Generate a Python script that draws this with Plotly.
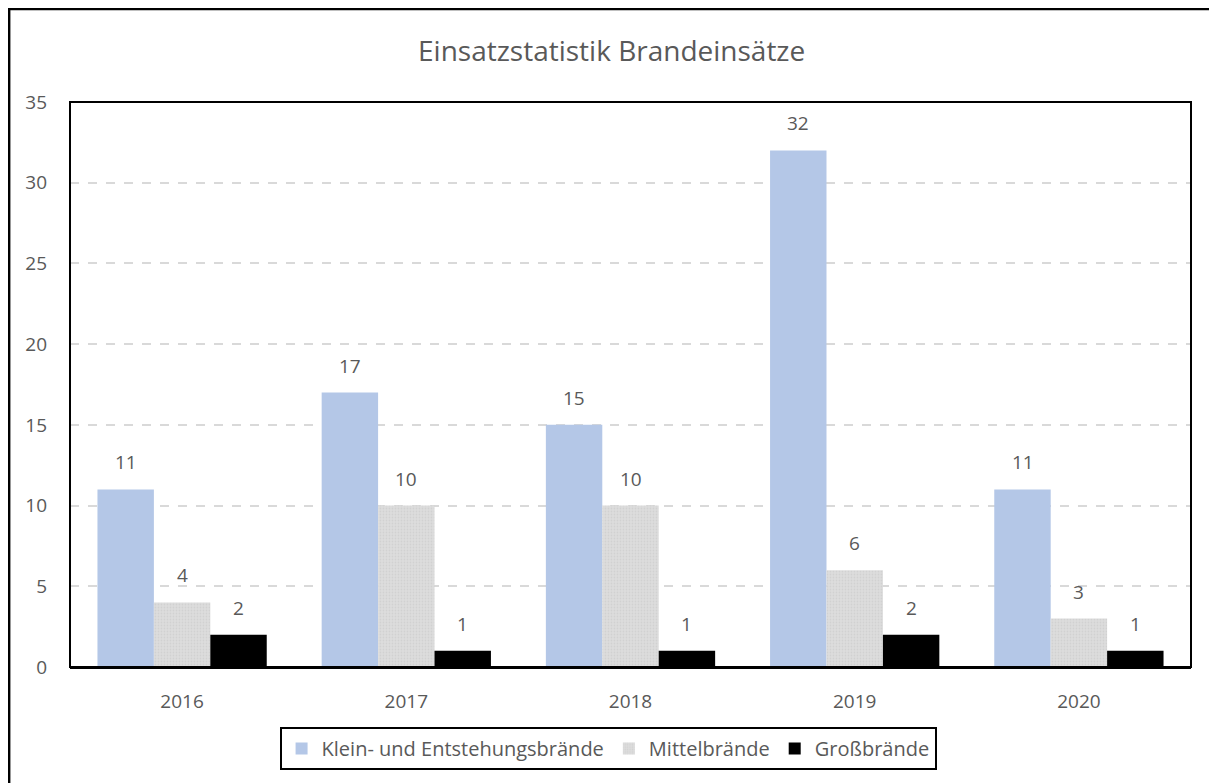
import plotly.graph_objects as go

# Daten
jahre   = ['2016', '2017', '2018', '2019', '2020']
klein   = [11, 17, 15, 32, 11]
mittel  = [4, 10, 10, 6, 3]
gross   = [2, 1, 1, 2, 1]
y_ticks = [0, 5, 10, 15, 20, 25, 30, 35]

FONT      = 'Open Sans'
TEXT_GRAU = '#595959'

serien = [
    ('Klein- und Entstehungsbrände', klein, dict(color='#b4c7e7')),
    ('Mittelbrände', mittel, dict(
        color='#d9d9d9',
        pattern=dict(shape='.', fgcolor='#c6c6c6', bgcolor='#dddddd', size=3, solidity=0.3))),
    ('Großbrände', gross, dict(color='#000000')),
]

fig = go.Figure()
for name, werte, marker in serien:
    fig.add_trace(go.Bar(x=jahre, y=werte, name=name,
                         marker=dict(line=dict(width=0), **marker)))

# Datenbeschriftungen über den Balken (Kategorie-Index, Versatz je Serie in Pixeln)
BALKEN_PX = 56.4
for i, (name, werte, _) in enumerate(serien):
    for k, wert in enumerate(werte):
        fig.add_annotation(x=k, y=wert, text=str(wert), showarrow=False,
                           xref='x', yref='y', yanchor='bottom',
                           xshift=(i - 1) * BALKEN_PX, yshift=12,
                           font=dict(family=FONT, size=19, color=TEXT_GRAU))

fig.update_layout(
    width=1217, height=783,
    margin=dict(l=62, r=34, t=94, b=124),
    paper_bgcolor='white', plot_bgcolor='white',
    barmode='group', bargap=0.245, bargroupgap=0,
    title=dict(
        text='Einsatzstatistik Brandeinsätze',
        xref='container', x=0.496, xanchor='center',
        yref='container', y=0.945, yanchor='middle',
        font=dict(family=FONT, size=28, color=TEXT_GRAU),
    ),
    font=dict(family=FONT, color=TEXT_GRAU),
    legend=dict(
        orientation='h', x=0.48, xanchor='center', y=-0.106, yanchor='top',
        font=dict(family=FONT, size=20, color=TEXT_GRAU),
        bordercolor='black', borderwidth=2, bgcolor='white',
        itemwidth=30, traceorder='normal',
    ),
    showlegend=True,
)

fig.update_xaxes(
    type='category', categoryorder='array', categoryarray=jahre,
    range=[-0.5, len(jahre) - 0.5],
    showgrid=False, ticks='', showline=True, linecolor='black', linewidth=2,
    tickfont=dict(family=FONT, size=19, color=TEXT_GRAU),
    ticklabelstandoff=16,
)
fig.update_yaxes(
    range=[0, 35], tickvals=y_ticks, showgrid=True,
    gridcolor='#d9d9d9', griddash='dash', gridwidth=1.5,
    zeroline=False, showline=False, ticks='',
    tickfont=dict(family=FONT, size=19, color=TEXT_GRAU),
    ticklabelstandoff=22,
)

# Rahmen um die Zeichenfläche
fig.add_shape(type='rect', xref='paper', yref='paper', x0=0, x1=1, y0=0, y1=1,
              line=dict(color='black', width=2), fillcolor='rgba(0,0,0,0)', layer='above')
# äußerer Diagrammrahmen (rechts/unten außerhalb des Bildes)
fig.add_shape(type='rect', xref='paper', yref='paper', x0=-0.0545, x1=1.1, y0=-0.3, y1=1.165,
              line=dict(color='black', width=3), fillcolor='rgba(0,0,0,0)', layer='above')

fig.write_html('out.html')
